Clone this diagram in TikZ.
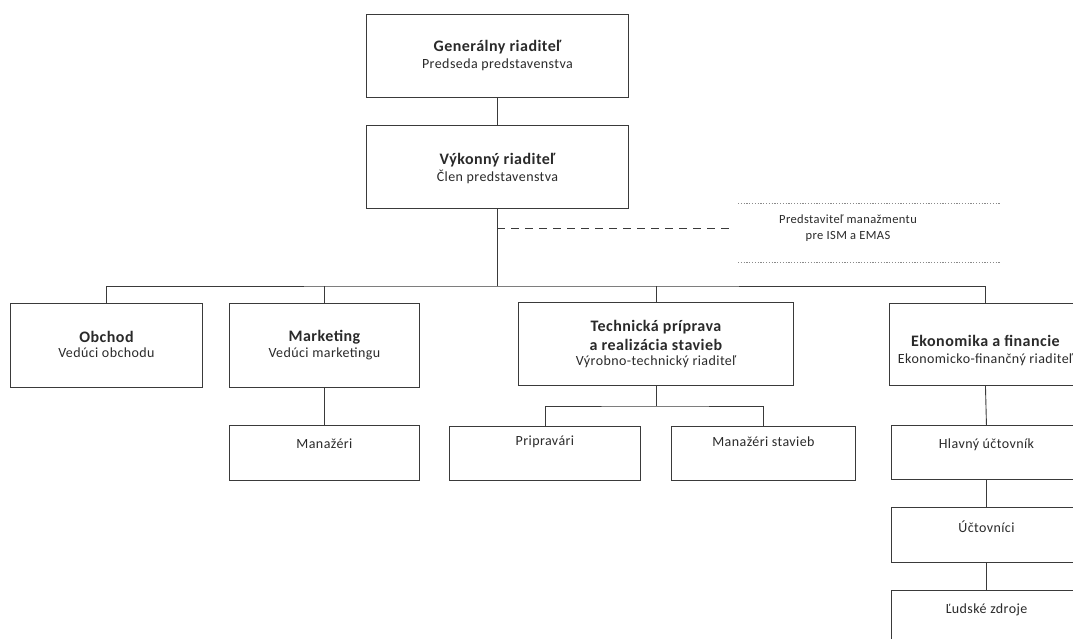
\documentclass[tikz,border=0pt]{standalone}
\usepackage{fontspec}
\setmainfont{Carlito}[LetterSpace=3]
\definecolor{linec}{HTML}{3A3A3A}
\definecolor{txtc}{HTML}{2A2A2A}
\definecolor{dotc}{HTML}{8A8A8A}
\begin{document}
\begin{tikzpicture}[x=1pt,y=-1pt,
  box/.style={draw=linec, line width=0.9pt, rectangle, inner sep=0pt, anchor=north west},
  ttl/.style={font=\fontsize{16}{18}\selectfont\bfseries, text=txtc, inner sep=0pt},
  sub/.style={font=\fontsize{14}{16}\selectfont, text=txtc, inner sep=0pt},
  lbl/.style={font=\fontsize{14}{16}\selectfont, text=txtc, inner sep=0pt},
  reptxt/.style={font=\fontsize{12.5}{15}\selectfont, text=txtc, inner sep=0pt, align=center},
  conn/.style={draw=linec, line width=0.9pt},
  repline/.style={draw=dotc, line width=0.8pt, dash pattern=on 1.2pt off 1.6pt},
  repdash/.style={draw=linec, line width=0.9pt, dash pattern=on 8pt off 6pt},
]
\path[use as bounding box, fill=white] (0,0) rectangle (1073,639);
\clip (0,0) rectangle (1073,639);

% boxes
\node[box, minimum width=262pt, minimum height=83pt] (gen) at (366,14) {};
\node[box, minimum width=262pt, minimum height=83pt] (vyk) at (366,125) {};
\node[box, minimum width=192pt, minimum height=84pt] (obch) at (10,303) {};
\node[box, minimum width=190pt, minimum height=84pt] (mkt) at (229,303) {};
\node[box, minimum width=275pt, minimum height=83pt] (tech) at (518,302) {};
\node[box, minimum width=192pt, minimum height=82pt] (eko) at (889,303) {};
\node[box, minimum width=190pt, minimum height=55pt] (man) at (229,425) {};
\node[box, minimum width=191pt, minimum height=54pt] (prip) at (449,426) {};
\node[box, minimum width=184pt, minimum height=54pt] (mans) at (671,426) {};
\node[box, minimum width=190pt, minimum height=54pt] (hlav) at (891,425) {};
\node[box, minimum width=190pt, minimum height=55pt] (uct) at (891,507) {};
\node[box, minimum width=190pt, minimum height=70pt] (ludz) at (891,590) {};

% texts
\node[ttl] (genT) at ([yshift=-33pt]gen.north) {Generálny riaditeľ};
\node[sub] (genS) at ([yshift=-51pt]gen.north) {Predseda predstavenstva};
\node[ttl] (vykT) at ([yshift=-35pt]vyk.north) {Výkonný riaditeľ};
\node[sub] (vykS) at ([yshift=-52pt]vyk.north) {Člen predstavenstva};
\node[ttl] (obchT) at ([yshift=-34pt]obch.north) {Obchod};
\node[sub] (obchS) at ([yshift=-50pt]obch.north) {Vedúci obchodu};
\node[ttl] (mktT) at ([yshift=-34pt]mkt.north) {Marketing};
\node[sub] (mktS) at ([yshift=-51pt]mkt.north) {Vedúci marketingu};
\node[ttl] (techT1) at ([yshift=-25pt]tech.north) {Technická príprava};
\node[ttl] (techT2) at ([yshift=-43pt]tech.north) {a realizácia stavieb};
\node[sub] (techS) at ([yshift=-60pt]tech.north) {Výrobno-technický riaditeľ};
\node[ttl] (ekoT) at ([yshift=-38pt]eko.north) {Ekonomika a financie};
\node[sub] (ekoS) at ([yshift=-57pt]eko.north) {Ekonomicko-finančný riaditeľ};
\node[lbl] (manT) at ([yshift=-19pt]man.north) {Manažéri};
\node[lbl] (pripT) at ([yshift=-16pt]prip.north) {Pripravári};
\node[lbl] (mansT) at ([yshift=-16pt]mans.north) {Manažéri stavieb};
\node[lbl] (hlavT) at ([yshift=-20pt]hlav.north) {Hlavný účtovník};
\node[lbl] (uctT) at ([yshift=-20pt]uct.north) {Účtovníci};
\node[lbl] (ludzT) at ([yshift=-20pt]ludz.north) {Ľudské zdroje};

% representative for ISM / EMAS
\node[reptxt] (rep) at (848,228) {Predstaviteľ manažmentu\\[1pt]pre ISM a EMAS};
\coordinate (repTL) at (738,203);
\coordinate (repTR) at (1000,203);
\coordinate (repBL) at (738,262);
\coordinate (repBR) at (1000,262);
\draw[repline] (repTL) -- (repTR);
\draw[repline] (repBL) -- (repBR);
\coordinate (dashend) at (735,228);
\draw[repdash] (vyk.south |- dashend) -- (dashend);

% connectors
\coordinate (busy) at (0,286);
\coordinate (tbusy) at (0,406);
\draw[conn] (gen.south) -- (vyk.north);
\draw[conn] (vyk.south) -- (vyk.south |- busy);
\draw[conn] (obch.north) |- (vyk.south |- busy) -| (eko.north);
\draw[conn] (mkt.north) -- (mkt.north |- busy);
\draw[conn] (tech.north) -- (tech.north |- busy);
\draw[conn] (mkt.south) -- (man.north);
\draw[conn] (tech.south) -- (tech.south |- tbusy);
\draw[conn] (prip.north) |- (tech.south |- tbusy) -| (mans.north);
\draw[conn] (eko.south) -- (hlav.north);
\draw[conn] (hlav.south) -- (uct.north);
\draw[conn] (uct.south) -- (ludz.north);
\end{tikzpicture}
\end{document}
